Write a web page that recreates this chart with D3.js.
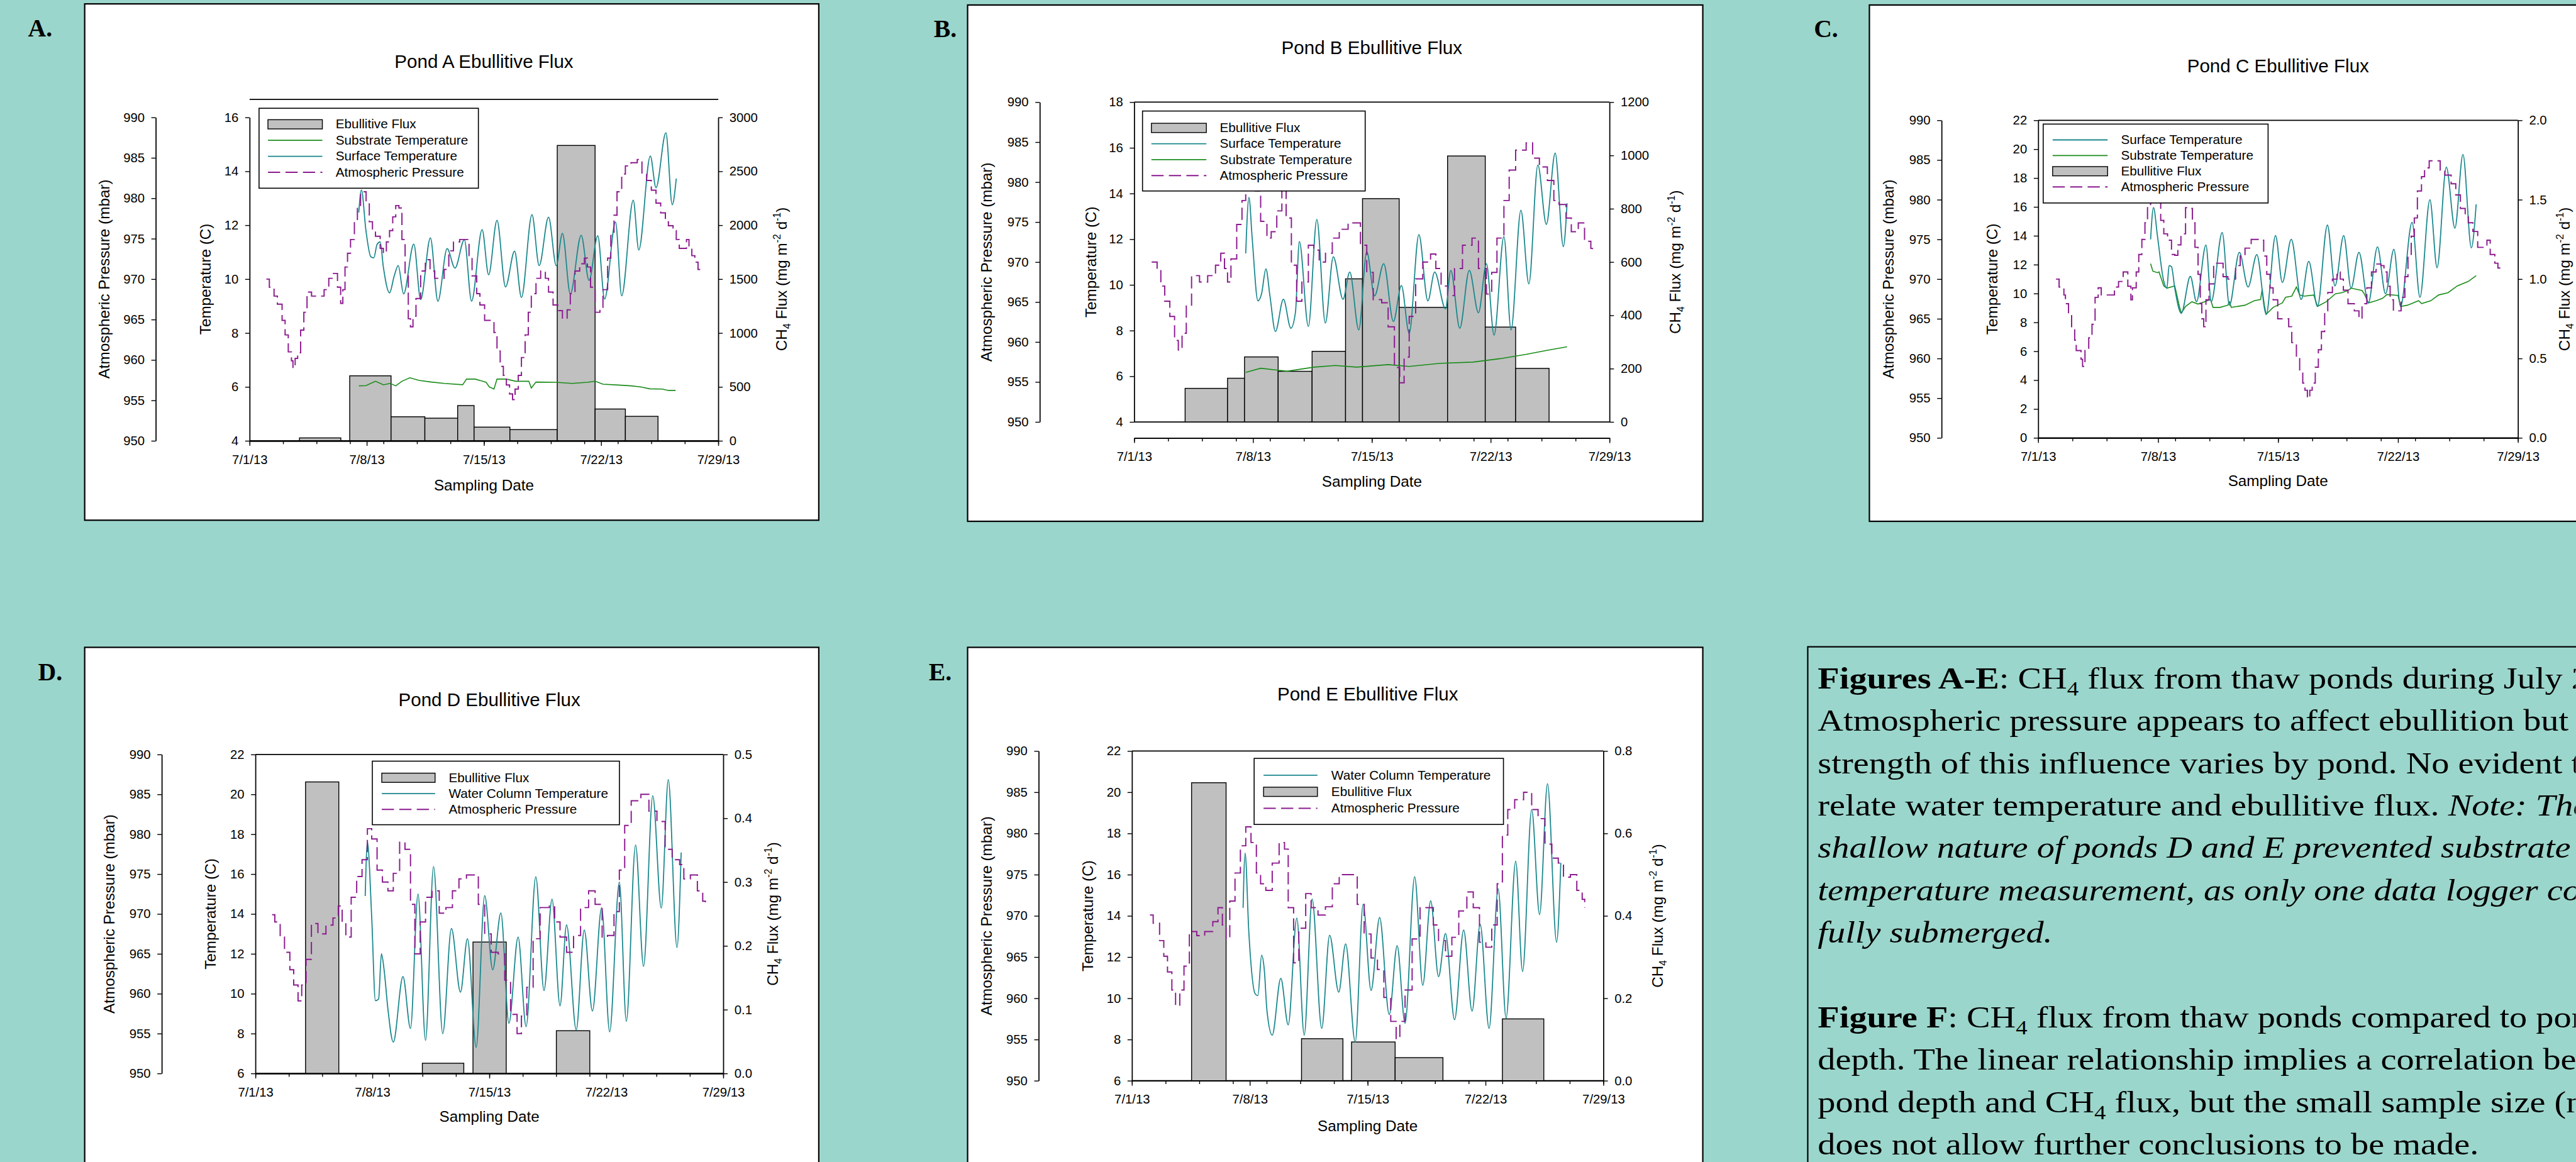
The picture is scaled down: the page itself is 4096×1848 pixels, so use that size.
<!DOCTYPE html>
<html>
<head>
<meta charset="utf-8">
<script src="https://cdn.jsdelivr.net/npm/d3@7"></script>
<style>
  body { margin: 0; background: #9bd6cc; overflow: hidden; }
  svg { display: block; }
</style>
</head>
<body>
<svg id="poster" width="4096" height="1848" viewBox="0 0 4638 2093"></svg>
<script>
// ---- data (days after 7/1/13, value) ----
// bars: [start day, end day, CH4 flux]
const pondABars = [[2.98,5.45,27],[5.98,8.45,603],[8.45,10.47,223],[10.47,12.43,210],[12.43,13.41,327],[13.41,15.55,127],[15.55,18.38,104],[18.38,20.64,2740],[20.64,22.45,295],[22.45,24.4,227]];
const pondASurface = [[6.52,12.47],[6.68,13.31],[6.95,11.8],[7.24,10.83],[7.42,10.79],[7.62,11.3],[7.8,11.38],[7.99,10.45],[8.36,9.49],[8.64,10.12],[8.88,10.5],[9.2,9.45],[9.81,11.3],[10.22,9.24],[10.8,11.53],[11.25,9.18],[11.8,11.13],[12.27,10.41],[12.83,11.46],[13.26,9.18],[13.89,11.84],[14.28,10.16],[14.78,12.18],[15.29,9.71],[15.83,11.04],[16.24,9.32],[16.87,12.39],[17.3,10.5],[17.86,12.3],[18.32,10.5],[18.69,11.7],[19.16,9.45],[19.81,11.63],[20.28,9.95],[20.8,11.61],[21.21,9.26],[21.86,12.12],[22.23,9.38],[22.92,12.93],[23.25,11.08],[23.94,14.57],[24.28,13.39],[24.87,15.43],[25.25,12.76],[25.49,13.73]];
const pondASubstrate = [[6.53,6.04],[6.95,6.05],[7.52,6.21],[7.99,6.08],[8.4,6.13],[8.73,6.04],[9.1,6.21],[9.57,6.34],[10.13,6.24],[10.87,6.18],[11.62,6.13],[12.73,6.08],[12.96,6.29],[13.48,6.29],[14.13,6.17],[14.32,6.0],[14.6,5.92],[14.78,6.29],[15.34,6.29],[15.9,6.21],[16.68,6.21],[16.83,5.96],[17.11,6.18],[18.32,6.17],[19.25,6.13],[20.18,6.17],[20.65,6.21],[21.11,6.1],[22.04,6.07],[22.79,6.04],[23.35,6.0],[23.9,5.93],[24.65,5.92],[25.02,5.87],[25.45,5.87]];
const pondAPressure = [[1.0,970],[1.18,969],[1.46,967.9],[1.66,966.9],[1.94,964.9],[2.12,963.1],[2.31,961],[2.5,959.9],[2.59,959],[2.72,960.2],[2.87,960.9],[3.05,963.7],[3.24,965.9],[3.43,968.4],[3.7,967.9],[4.17,967.9],[4.45,968.7],[4.73,970.1],[5.0,970.7],[5.25,969],[5.44,967],[5.57,968.7],[5.7,971.5],[5.85,973.2],[6.03,974.9],[6.26,977.1],[6.44,979.1],[6.63,980.8],[6.81,980.8],[6.96,979.4],[7.15,977.1],[7.34,976],[7.52,975.3],[7.8,973.8],[7.99,973.2],[8.17,974.6],[8.36,976],[8.55,977.7],[8.73,979.1],[8.92,978.8],[9.1,974.9],[9.29,970.4],[9.48,965.1],[9.61,964.1],[9.76,965.4],[9.94,967.6],[10.22,971],[10.5,972.4],[10.78,971],[11.06,970.1],[11.34,970.1],[11.62,971.2],[11.9,973.5],[12.18,974.6],[12.55,974.9],[12.92,974.9],[13.11,972.9],[13.29,970.4],[13.57,968.2],[13.76,966.8],[14.04,964.9],[14.41,964.9],[14.6,963.4],[14.78,961.1],[14.97,959.2],[15.16,958.1],[15.34,956.9],[15.53,955.8],[15.71,955.1],[15.86,956.4],[16.05,958.1],[16.24,960.3],[16.46,963.1],[16.65,965.9],[16.83,968.2],[17.11,970.1],[17.39,971],[17.67,970.1],[17.86,968.4],[18.13,966.8],[18.41,966.1],[18.69,965.1],[18.97,966.2],[19.16,968.2],[19.44,971],[19.72,971.9],[20.0,972.6],[20.18,971.5],[20.37,969],[20.65,965.9],[20.93,966.5],[21.11,968.7],[21.39,972.6],[21.58,975.4],[21.77,977.9],[21.95,980.8],[22.23,983],[22.45,984],[22.79,984.4],[23.16,984.8],[23.44,983],[23.72,982.2],[24.0,981],[24.28,979.4],[24.56,978.2],[24.84,977.1],[25.02,976.6],[25.3,976],[25.49,974.9],[25.67,973.8],[25.95,973.8],[26.1,974.9],[26.25,973.8],[26.42,972.9],[26.6,972.1],[26.79,971.2],[26.92,971.2]];

const pondBBars = [[3.0,5.5,126],[5.5,6.5,164],[6.5,8.48,244],[8.48,10.48,190],[10.48,12.45,265],[12.45,13.45,537],[13.45,15.61,838],[15.61,18.46,430],[18.46,20.68,998],[20.68,22.47,356],[22.47,24.44,201]];
const pondBSurface = [[6.57,11.38],[6.76,13.83],[6.95,12.05],[7.29,9.3],[7.5,9.6],[7.76,10.7],[8.0,9.5],[8.32,7.96],[8.79,9.37],[9.23,8.1],[9.5,8.8],[9.73,11.9],[10.26,8.18],[10.76,12.87],[11.26,8.33],[11.73,11.23],[12.3,9.37],[12.7,10.56],[13.23,8.03],[13.7,11.45],[14.16,9.52],[14.7,10.93],[15.27,8.4],[15.74,9.97],[16.2,7.88],[16.77,12.2],[17.3,9.3],[17.7,10.56],[18.34,8.95],[18.65,10.64],[19.18,8.1],[19.74,10.64],[20.28,8.78],[20.75,10.93],[21.2,7.8],[21.78,12.12],[22.2,8.03],[22.78,13.27],[23.25,10.04],[23.78,15.25],[24.28,12.65],[24.8,15.77],[25.28,11.68],[25.5,13.57]];
const pondBSubstrate = [[6.57,6.17],[7.45,6.35],[9.0,6.22],[10.6,6.4],[11.85,6.47],[13.1,6.4],[14.95,6.51],[16.2,6.43],[18.1,6.57],[19.95,6.62],[21.55,6.77],[23.1,6.96],[24.35,7.14],[25.5,7.29]];
const pondBPressure = [[1.03,970],[1.35,969],[1.57,967],[1.8,965.1],[2.1,963.2],[2.38,960.2],[2.6,959],[2.82,961.1],[3.07,964.5],[3.38,968.3],[3.85,967.5],[4.33,968.3],[4.79,969.6],[5.1,971.1],[5.32,969.2],[5.5,967.5],[5.7,970.4],[6.04,974.7],[6.35,977.7],[6.57,979.8],[6.8,981],[7.13,978.9],[7.45,975.1],[7.82,973],[8.07,973.8],[8.4,976.4],[8.7,979.5],[8.95,975.5],[9.26,969.6],[9.57,965.1],[9.88,967.5],[10.26,972.1],[10.58,971.5],[10.9,970],[11.27,971.1],[11.67,973],[12.08,974.1],[12.6,974.9],[13.08,974.9],[13.33,972.1],[13.7,968.7],[14.08,965.3],[14.58,964.9],[14.96,961.9],[15.33,956.8],[15.64,954.9],[15.9,958.1],[16.2,963.2],[16.58,967.9],[17.0,970],[17.46,971],[17.77,969.2],[18.08,967],[18.46,965.8],[18.87,969.2],[19.34,972.1],[19.9,973],[20.28,969.2],[20.75,966],[21.06,968.7],[21.37,973],[21.78,977.7],[22.09,981.5],[22.47,984],[23.09,984.9],[23.47,983],[23.87,981.9],[24.34,980.2],[24.72,977.7],[25.03,977.2],[25.44,975.5],[25.75,973.8],[26.16,974.9],[26.53,972.6],[26.9,971.7],[27.0,971.1]];

const pondCBars = [];
const pondCSurface = [[6.56,13.75],[6.73,15.95],[6.96,13.98],[7.33,10.84],[7.51,10.37],[7.64,11.94],[7.78,11.86],[7.97,10.37],[8.35,8.64],[8.88,11.19],[9.24,9.43],[9.79,13.36],[10.1,9.43],[10.74,14.22],[11.16,9.19],[11.74,12.85],[12.25,10.45],[12.76,12.7],[13.31,8.56],[13.85,14.02],[14.25,10.76],[14.77,13.75],[15.35,9.59],[15.79,12.23],[16.3,9.11],[16.88,14.74],[17.32,10.53],[17.83,14.02],[18.26,10.37],[18.72,12.85],[19.27,9.35],[19.8,13.23],[20.27,9.98],[20.76,13.07],[21.15,9.11],[21.82,14.93],[22.28,9.74],[22.86,16.5],[23.28,11.79],[23.82,18.75],[24.32,14.53],[24.79,19.64],[25.28,13.17],[25.56,16.18]];
const pondCSubstrate = [[6.56,12.07],[6.69,11.55],[6.96,11.44],[7.05,11.5],[7.33,10.53],[7.51,10.37],[7.97,10.53],[8.06,10.06],[8.24,9.11],[8.35,8.64],[8.6,9.11],[8.97,9.43],[9.33,9.27],[9.88,9.5],[10.06,9.59],[10.2,9.04],[10.61,9.04],[11.06,9.19],[11.16,9.43],[11.27,9.04],[12.07,9.19],[12.61,9.5],[12.98,9.59],[13.07,10.29],[13.2,9.19],[13.3,8.56],[13.71,9.04],[14.25,9.35],[14.44,9.74],[14.8,9.82],[15.07,10.45],[15.26,9.9],[15.53,9.82],[16.08,9.9],[16.3,9.11],[16.81,9.43],[17.35,9.98],[17.72,10.06],[18.08,10.21],[18.26,10.37],[18.9,10.21],[19.03,9.98],[19.27,9.35],[19.72,9.5],[20.09,9.66],[20.36,9.93],[21.0,9.87],[21.15,9.11],[21.55,9.19],[22.2,9.5],[22.38,9.3],[22.91,9.5],[23.37,9.9],[23.92,10.06],[24.46,10.53],[25.1,10.84],[25.56,11.24]];
const pondCPressure = [[1.04,970],[1.22,969],[1.5,968],[1.59,966.9],[1.77,965.4],[1.95,964],[2.13,962.3],[2.22,961],[2.5,959.9],[2.59,959],[2.73,961],[2.95,962.6],[3.14,964.3],[3.32,967.7],[3.5,968.9],[3.68,968],[4.05,968],[4.32,968],[4.45,969],[4.69,969.7],[4.96,970.9],[5.23,969.1],[5.41,967.4],[5.5,968.9],[5.72,970.9],[5.87,973.1],[6.05,975],[6.23,977.1],[6.38,979.4],[6.56,980.3],[6.78,980],[7.15,977.4],[7.33,975.7],[7.55,974.9],[7.78,973.1],[7.97,973],[8.15,974.3],[8.33,975.7],[8.6,979],[8.88,978.9],[9.0,977.1],[9.15,974],[9.33,970.6],[9.46,966.9],[9.55,965],[9.66,964],[9.79,967.4],[9.97,969.4],[10.24,972],[10.52,972],[10.79,970.3],[11.07,970],[11.34,970],[11.52,971.7],[11.79,973],[12.07,973.9],[12.43,975],[12.98,974.9],[13.16,972.9],[13.34,970.6],[13.53,968.9],[13.71,967.4],[13.98,965],[14.44,965],[14.62,964],[14.8,962],[15.07,960],[15.26,958.3],[15.44,956.9],[15.57,956],[15.71,955],[15.85,956],[15.99,956.9],[16.17,958.9],[16.35,961.1],[16.53,963.4],[16.72,966],[16.9,968.3],[17.17,970],[17.44,970.9],[17.63,970],[17.81,968.6],[18.08,966.9],[18.45,966],[18.72,965],[18.9,966.9],[19.18,968.9],[19.45,970.9],[19.72,971.9],[20.0,971.7],[20.18,970.9],[20.36,969.1],[20.54,967.4],[20.73,966],[21.0,966],[21.18,967.7],[21.4,970.3],[21.58,972.9],[21.77,975.4],[21.95,977.7],[22.13,981.1],[22.37,982.9],[22.55,984],[22.82,984.9],[23.19,984.9],[23.46,983.7],[23.73,983.1],[24.1,982],[24.37,980.6],[24.64,978.9],[24.92,978],[25.1,977.1],[25.37,976],[25.65,974],[25.92,974],[26.19,974.9],[26.38,973.1],[26.65,972],[26.83,971.4],[27.0,971.1]];

const pondDBars = [[3.0,4.99,0.457],[9.99,12.47,0.016],[13.02,15.01,0.206],[18.01,20.01,0.067]];
const pondDWater = [[6.57,14.9],[6.7,17.6],[6.96,13.8],[7.18,9.65],[7.37,9.73],[7.54,12.0],[7.7,11.2],[7.92,9.3],[8.25,7.57],[8.83,10.86],[9.28,8.26],[9.73,15.0],[10.18,7.66],[10.66,16.38],[11.21,8.0],[11.73,13.27],[12.27,10.08],[12.69,12.76],[13.21,7.31],[13.72,14.92],[14.2,11.2],[14.69,14.05],[15.17,8.52],[15.72,12.84],[16.2,8.35],[16.78,15.87],[17.27,10.16],[17.75,14.74],[18.23,9.39],[18.62,13.45],[19.2,8.18],[19.68,13.19],[20.17,9.13],[20.72,14.31],[21.2,8.09],[21.78,15.6],[22.2,8.61],[22.75,17.46],[23.23,11.37],[23.78,19.93],[24.29,14.3],[24.71,20.74],[25.23,12.32],[25.48,17.08]];
const pondDPressure = [[1.0,969.9],[1.16,969],[1.48,967.1],[1.74,965.2],[2.06,963],[2.29,961.1],[2.55,959.1],[2.77,961.1],[3.03,964.3],[3.35,968.8],[3.74,967.5],[4.22,968.6],[4.64,969.5],[4.96,971],[5.19,969],[5.41,967.1],[5.73,972.1],[6.06,974.7],[6.38,976.8],[6.7,980.7],[6.96,979.4],[7.28,975.5],[7.6,974],[7.93,972.9],[8.25,975.1],[8.63,979],[8.95,978.1],[9.28,971.2],[9.54,965],[9.86,969],[10.18,972.1],[10.57,972.9],[11.0,970.1],[11.4,970.8],[11.79,972.9],[12.18,974.4],[12.63,974.9],[13.01,974.9],[13.34,971.2],[13.72,967.5],[14.11,965.2],[14.53,965],[14.92,961.7],[15.27,957.4],[15.66,955],[15.92,957.2],[16.24,960.8],[16.62,966.9],[17.04,970.8],[17.59,971],[17.91,969],[18.23,967.1],[18.62,965.2],[19.04,967.3],[19.46,970.8],[19.94,972.9],[20.33,971.2],[20.75,967.1],[21.07,967.3],[21.46,970.3],[21.78,975.5],[22.1,981.1],[22.49,984.2],[23.07,985],[23.55,982.9],[24.03,981.6],[24.52,978.1],[24.94,976.8],[25.39,976.2],[25.64,974.4],[26.03,974.9],[26.45,972.9],[26.77,971.6],[26.93,971.4]];

const pondEBars = [[3.54,5.59,0.723],[10.07,12.53,0.102],[13.04,15.63,0.094],[15.63,18.47,0.056],[22.0,24.46,0.150]];
const pondEWater = [[6.6,14.39],[6.72,17.04],[6.94,13.22],[7.32,10.21],[7.48,10.13],[7.7,12.09],[7.86,11.38],[8.02,9.38],[8.33,8.21],[8.84,10.97],[9.28,8.71],[9.79,13.89],[10.23,8.21],[10.7,14.81],[11.27,8.54],[11.74,13.06],[12.28,10.3],[12.69,12.64],[13.26,7.87],[13.73,14.56],[14.2,10.38],[14.71,13.92],[15.28,9.21],[15.75,12.55],[16.22,8.79],[16.79,15.9],[17.27,10.63],[17.74,14.73],[18.21,11.05],[18.62,13.14],[19.16,8.96],[19.7,13.31],[20.2,9.38],[20.68,13.59],[21.21,8.54],[21.75,15.31],[22.22,9.04],[22.79,16.65],[23.2,11.3],[23.74,19.16],[24.21,14.06],[24.68,20.41],[25.22,12.72],[25.47,16.57]];
const pondEPressure = [[1.07,970.1],[1.26,969.1],[1.64,967],[1.89,965.1],[2.11,963.2],[2.37,961],[2.59,959.1],[2.84,961],[3.09,963.9],[3.41,968.1],[3.85,967.6],[4.32,968.1],[4.8,969.3],[5.11,971],[5.37,968.9],[5.59,967.2],[5.81,971.8],[6.12,975.2],[6.44,978.5],[6.76,980.8],[7.07,978.9],[7.39,975.2],[7.64,973.9],[7.95,973.1],[8.33,976.4],[8.74,978.9],[9.06,978.1],[9.28,971],[9.6,964.3],[9.91,968.5],[10.32,972.7],[10.64,971],[11.05,970.1],[11.49,971.1],[11.9,973.9],[12.31,975],[12.75,975],[13.07,975],[13.38,971.4],[13.79,967.8],[14.2,964.9],[14.58,963.5],[14.96,960.1],[15.37,957.2],[15.69,955.1],[15.91,957.2],[16.22,961],[16.64,967.2],[17.11,971],[17.58,971],[17.9,968.9],[18.21,967],[18.62,965.1],[19.0,967.4],[19.41,970.6],[19.89,972.9],[20.27,971],[20.64,966.8],[21.02,966.2],[21.37,968.9],[21.69,973.9],[22.0,979.8],[22.32,982.9],[22.73,984.1],[23.26,985],[23.74,982.9],[24.12,981.8],[24.53,978.7],[24.94,977],[25.32,976.4],[25.63,974.7],[26.04,975],[26.42,973.1],[26.74,972],[26.89,971]];

// tick values
const pressureTicks = [950, 955, 960, 965, 970, 975, 980, 985, 990];
const fluxTicksA = [0, 500, 1000, 1500, 2000, 2500, 3000];
const fluxTicksB = [0, 200, 400, 600, 800, 1000, 1200];
const fluxTicksC = [0, 0.5, 1.0, 1.5, 2.0];
const fluxTicksD = [0, 0.1, 0.2, 0.3, 0.4, 0.5];
const fluxTicksE = [0, 0.2, 0.4, 0.6, 0.8];

const captionLines = [
  [["Figures A-E", "b"], [": CH", "n"], ["4", "sub"], [" flux from thaw ponds during July 2013.", "n"]],
  [["Atmospheric pressure appears to affect ebullition but the", "n"]],
  [["strength of this influence varies by pond. No evident trends", "n"]],
  [["relate water temperature and ebullitive flux. ", "n"], ["Note: The", "i"]],
  [["shallow nature of ponds D and E prevented substrate", "i"]],
  [["temperature measurement, as only one data logger could be", "i"]],
  [["fully submerged.", "i"]],
  [],
  [["Figure F", "b"], [": CH", "n"], ["4", "sub"], [" flux from thaw ponds compared to pond", "n"]],
  [["depth. The linear relationship implies a correlation between", "n"]],
  [["pond depth and CH", "n"], ["4", "sub"], [" flux, but the small sample size (n", "n"]],
  [["does not allow further conclusions to be made.", "n"]]
];

// ---- drawing ----
const sans = "'Liberation Sans', Arial, sans-serif";
const serif = "'Liberation Serif', 'Times New Roman', serif";
const colors = { teal: "#1a878c", green: "#1b8c1b", purple: "#8b1a8f", bar: "#c0c0c0" };
const t0 = new Date(2013, 6, 1);
const t1 = new Date(2013, 6, 29);
const toDate = d => new Date(t0.getTime() + d * 864e5);
const majorDays = d3.timeDay.every(7).range(t0, new Date(2013, 6, 30));
const minorDays = d3.timeDay.every(2).range(t0, new Date(2013, 6, 30));
const dateFmt = d3.timeFormat("%-m/%-d/%y");

const svg = d3.select("#poster");

const panels = [
  { label: "A.", labelX: 50, labelY: 66, box: [152, 7, 1474, 937], titleY: 122, title: "Pond A Ebullitive Flux",
    px0: 449, px1: 1293, py0: 211.5, py1: 794, frameTop: 179, xAxisY: 794, pAxisX: 280,
    tDomain: [4, 16], fDomain: [0, 3000], fTicks: fluxTicksA, fFmt: d3.format("d"),
    pTitleX: 197, tTitleX: 379, fTitleX: 1416, dateY: 883,
    bars: pondABars, series: [["green", pondASubstrate], ["teal", pondASurface]], pressure: pondAPressure,
    legend: { box: [466, 195, 861, 339], sw: [482, 580], tx: 604, y0: 231.5, dy: 28.8,
      items: [["bar", "Ebullitive Flux"], ["green", "Substrate Temperature"], ["teal", "Surface Temperature"], ["purple", "Atmospheric Pressure"]] } },
  { label: "B.", labelX: 1681, labelY: 67, box: [1742, 9, 3066, 939], titleY: 97, title: "Pond B Ebullitive Flux",
    px0: 2042, px1: 2898, py0: 184, py1: 760, frameTop: 184, xAxisY: 789, pAxisX: 1872,
    tDomain: [4, 18], fDomain: [0, 1200], fTicks: fluxTicksB, fFmt: d3.format("d"),
    pTitleX: 1786, tTitleX: 1973, fTitleX: 3026, dateY: 877,
    bars: pondBBars, series: [["green", pondBSubstrate], ["teal", pondBSurface]], pressure: pondBPressure,
    legend: { box: [2057, 200, 2458, 344], sw: [2073, 2172], tx: 2196, y0: 238, dy: 28.6,
      items: [["bar", "Ebullitive Flux"], ["teal", "Surface Temperature"], ["green", "Substrate Temperature"], ["purple", "Atmospheric Pressure"]] } },
  { label: "C.", labelX: 3266, labelY: 67, box: [3366, 9, 4720, 939], titleY: 130, title: "Pond C Ebullitive Flux",
    px0: 3670, px1: 4534, py0: 216.7, py1: 788.7, frameTop: 216.7, xAxisY: 788.7, pAxisX: 3496,
    tDomain: [0, 22], fDomain: [0, 2], fTicks: fluxTicksC, fFmt: d3.format(".1f"),
    pTitleX: 3410, tTitleX: 3597, fTitleX: 4627, dateY: 876,
    bars: pondCBars, series: [["green", pondCSubstrate], ["teal", pondCSurface]], pressure: pondCPressure,
    legend: { box: [3679, 223.5, 4084, 365.6], sw: [3696, 3795], tx: 3819, y0: 259.6, dy: 28.2,
      items: [["teal", "Surface Temperature"], ["green", "Substrate Temperature"], ["bar", "Ebullitive Flux"], ["purple", "Atmospheric Pressure"]] } },
  { label: "D.", labelX: 68, labelY: 1225, box: [152, 1166, 1474, 2130], titleY: 1272, title: "Pond D Ebullitive Flux",
    px0: 459.5, px1: 1302, py0: 1359, py1: 1933.5, frameTop: 1359, xAxisY: 1933.5, pAxisX: 290.8,
    tDomain: [6, 22], fDomain: [0, 0.5], fTicks: fluxTicksD, fFmt: d3.format(".1f"),
    pTitleX: 206, tTitleX: 388, fTitleX: 1400, dateY: 2021,
    bars: pondDBars, series: [["teal", pondDWater]], pressure: pondDPressure,
    legend: { box: [670, 1371, 1115, 1485.5], sw: [687, 783], tx: 807.5, y0: 1408.5, dy: 28.5,
      items: [["bar", "Ebullitive Flux"], ["teal", "Water Column Temperature"], ["purple", "Atmospheric Pressure"]] } },
  { label: "E.", labelX: 1672, labelY: 1225, box: [1742, 1166, 3066, 2130], titleY: 1261.5, title: "Pond E Ebullitive Flux",
    px0: 2038, px1: 2887, py0: 1352.7, py1: 1946.6, frameTop: 1352.7, xAxisY: 1946.6, pAxisX: 1870,
    tDomain: [6, 22], fDomain: [0, 0.8], fTicks: fluxTicksE, fFmt: d3.format(".1f"),
    pTitleX: 1786, tTitleX: 1968, fTitleX: 2994, dateY: 2037,
    bars: pondEBars, series: [["teal", pondEWater]], pressure: pondEPressure,
    legend: { box: [2258, 1366, 2707, 1485], sw: [2275, 2372], tx: 2397, y0: 1404, dy: 29.8,
      items: [["teal", "Water Column Temperature"], ["bar", "Ebullitive Flux"], ["purple", "Atmospheric Pressure"]] } }
];

function styleAxis(sel) {
  sel.attr("font-family", null).attr("font-size", null);
  sel.selectAll("text").attr("font-family", sans).attr("font-size", 23).attr("fill", "#000");
  sel.selectAll(".tick line").attr("stroke", "#000").attr("stroke-width", 1.6);
  sel.select(".domain").attr("stroke", "#000").attr("stroke-width", 2);
}

function rotatedTitle(g, x, y, parts) {
  const t = g.append("text")
    .attr("transform", `translate(${x},${y}) rotate(-90)`)
    .attr("text-anchor", "middle")
    .attr("font-family", sans).attr("font-size", 27.5).attr("fill", "#000");
  parts.forEach(([s, kind]) => {
    const ts = t.append("tspan").text(s);
    if (kind === "sub") ts.attr("font-size", 18).attr("dy", 7);
    else if (kind === "sup") ts.attr("font-size", 18).attr("dy", -11);
    else if (kind === "back-sub") ts.attr("dy", -7);
    else if (kind === "back-sup") ts.attr("dy", 11);
  });
}

function drawPanel(p) {
  const g = svg.append("g");
  const [bx0, by0, bx1, by1] = p.box;
  g.append("rect").attr("x", bx0).attr("y", by0).attr("width", bx1 - bx0).attr("height", by1 - by0)
    .attr("fill", "#fff").attr("stroke", "#000").attr("stroke-width", 2.5);

  svg.append("text").attr("x", p.labelX).attr("y", p.labelY)
    .attr("font-family", serif).attr("font-weight", "bold").attr("font-size", 45).text(p.label);

  const midX = (p.px0 + p.px1) / 2, midY = (p.py0 + p.py1) / 2;
  g.append("text").attr("x", midX).attr("y", p.titleY).attr("text-anchor", "middle")
    .attr("font-family", sans).attr("font-size", 33.5).text(p.title);

  const x = d3.scaleTime().domain([t0, t1]).range([p.px0, p.px1]);
  const yT = d3.scaleLinear().domain(p.tDomain).range([p.py1, p.py0]);
  const yP = d3.scaleLinear().domain([950, 990]).range([p.py1, p.py0]);
  const yF = d3.scaleLinear().domain(p.fDomain).range([p.py1, p.py0]);

  // frame lines
  g.append("line").attr("x1", p.px0).attr("x2", p.px1).attr("y1", p.frameTop).attr("y2", p.frameTop)
    .attr("stroke", "#000").attr("stroke-width", 2);
  g.append("line").attr("x1", p.px0).attr("x2", p.px1).attr("y1", p.py1).attr("y2", p.py1)
    .attr("stroke", "#000").attr("stroke-width", 2);

  // bars
  g.append("g").selectAll("rect").data(p.bars).join("rect")
    .attr("x", d => x(toDate(d[0])))
    .attr("width", d => x(toDate(d[1])) - x(toDate(d[0])))
    .attr("y", d => yF(d[2]))
    .attr("height", d => p.py1 - yF(d[2]))
    .attr("fill", colors.bar).attr("stroke", "#000").attr("stroke-width", 1.6);

  // temperature series
  const tLine = d3.line().x(d => x(toDate(d[0]))).y(d => yT(d[1]));
  p.series.forEach(([kind, data]) => {
    g.append("path").datum(data)
      .attr("d", tLine.curve(kind === "teal" ? d3.curveMonotoneX : d3.curveLinear))
      .attr("fill", "none").attr("stroke", colors[kind])
      .attr("stroke-width", kind === "teal" ? 2 : 1.8);
  });

  // pressure
  const pLine = d3.line().x(d => x(toDate(d[0]))).y(d => yP(d[1])).curve(d3.curveStepAfter);
  g.append("path").datum(p.pressure).attr("d", pLine)
    .attr("fill", "none").attr("stroke", colors.purple).attr("stroke-width", 2.2)
    .attr("stroke-dasharray", "22,9");

  // axes
  g.append("g").attr("transform", `translate(${p.pAxisX},0)`)
    .call(d3.axisLeft(yP).tickValues(pressureTicks).tickSize(8).tickPadding(12).tickSizeOuter(0))
    .call(styleAxis);
  g.append("g").attr("transform", `translate(${p.px0},0)`)
    .call(d3.axisLeft(yT).tickValues(d3.range(p.tDomain[0], p.tDomain[1] + 1, 2)).tickSize(8).tickPadding(12).tickSizeOuter(0))
    .call(styleAxis);
  g.append("g").attr("transform", `translate(${p.px1},0)`)
    .call(d3.axisRight(yF).tickValues(p.fTicks).tickFormat(p.fFmt).tickSize(8).tickPadding(12).tickSizeOuter(0))
    .call(styleAxis);
  g.append("g").attr("transform", `translate(0,${p.xAxisY})`)
    .call(d3.axisBottom(x).tickValues(minorDays).tickFormat("").tickSize(6).tickSizeOuter(0))
    .call(styleAxis);
  g.append("g").attr("transform", `translate(0,${p.xAxisY})`)
    .call(d3.axisBottom(x).tickValues(majorDays).tickFormat(dateFmt).tickSize(9).tickPadding(16).tickSizeOuter(0))
    .call(styleAxis);

  // axis titles
  rotatedTitle(g, p.pTitleX, midY, [["Atmospheric Pressure (mbar)"]]);
  rotatedTitle(g, p.tTitleX, midY, [["Temperature (C)"]]);
  rotatedTitle(g, p.fTitleX, midY, [["CH"], ["4", "sub"], [" Flux (mg m", "back-sub"], ["-2", "sup"], [" d", "back-sup"], ["-1", "sup"], [")", "back-sup"]]);
  g.append("text").attr("x", midX).attr("y", p.dateY).attr("text-anchor", "middle")
    .attr("font-family", sans).attr("font-size", 27.5).text("Sampling Date");

  // legend
  const L = p.legend;
  const lg = g.append("g");
  lg.append("rect").attr("x", L.box[0]).attr("y", L.box[1])
    .attr("width", L.box[2] - L.box[0]).attr("height", L.box[3] - L.box[1])
    .attr("fill", "#fff").attr("stroke", "#000").attr("stroke-width", 1.8);
  L.items.forEach(([kind, name], i) => {
    const base = L.y0 + i * L.dy, cy = base - 7.6;
    if (kind === "bar") {
      lg.append("rect").attr("x", L.sw[0]).attr("y", cy - 8.3).attr("width", L.sw[1] - L.sw[0]).attr("height", 16.6)
        .attr("fill", colors.bar).attr("stroke", "#000").attr("stroke-width", 1.6);
    } else {
      lg.append("line").attr("x1", L.sw[0]).attr("x2", L.sw[1]).attr("y1", cy).attr("y2", cy)
        .attr("stroke", colors[kind]).attr("stroke-width", kind === "purple" ? 2.2 : 2)
        .attr("stroke-dasharray", kind === "purple" ? "22,9.5" : null);
    }
    lg.append("text").attr("x", L.tx).attr("y", base)
      .attr("font-family", sans).attr("font-size", 23.5).text(name);
  });
}

panels.forEach(drawPanel);

// caption box
svg.append("rect").attr("x", 3255).attr("y", 1165).attr("width", 1500).attr("height", 1000)
  .attr("fill", "none").attr("stroke", "#000").attr("stroke-width", 2.5);
svg.append("clipPath").attr("id", "pageClip").append("rect")
  .attr("width", 4638).attr("height", 2093);
// the caption type is set wide: stretch it horizontally
const cap = svg.append("g").attr("clip-path", "url(#pageClip)")
  .append("g").attr("transform", "translate(3273,0) scale(1.16,1)")
  .attr("font-family", serif).attr("font-size", 55).attr("fill", "#000");
captionLines.forEach((segs, i) => {
  if (!segs.length) return;
  const t = cap.append("text").attr("x", 0).attr("y", 1240 + i * 76.3);
  let shifted = false;
  segs.forEach(([s, kind]) => {
    const ts = t.append("tspan").text(s);
    if (kind === "b") ts.attr("font-weight", "bold");
    if (kind === "i") ts.attr("font-style", "italic");
    if (kind === "sub") { ts.attr("font-size", 36).attr("dy", 13); shifted = true; }
    else if (shifted) { ts.attr("dy", -13); shifted = false; }
  });
});
</script>
</body>
</html>
